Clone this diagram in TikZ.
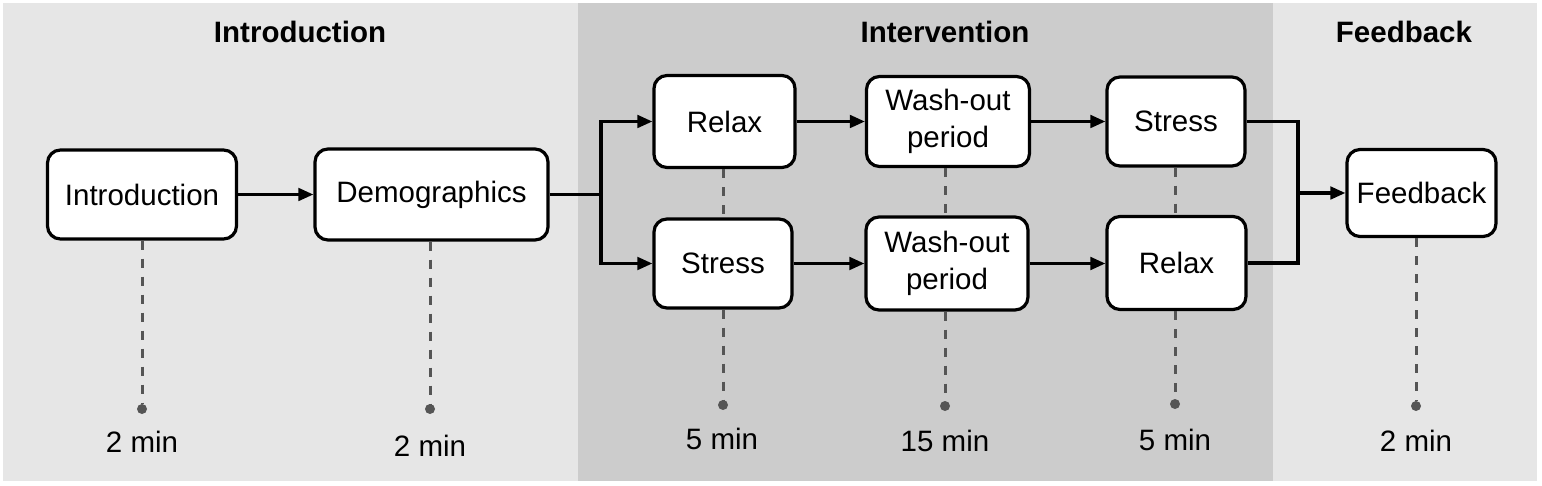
\documentclass[tikz,border=0pt]{standalone}
\usepackage{fontspec}
\setmainfont{Liberation Sans}
\usetikzlibrary{arrows.meta}
\definecolor{panelA}{HTML}{E6E6E6}
\definecolor{panelB}{HTML}{CCCCCC}
\definecolor{dashc}{HTML}{555555}
\tikzset{
 box/.style={draw=black, line width=3.2pt, fill=white, rounded corners=13pt, inner sep=0pt, align=center, font=\fontsize{29.5}{37}\selectfont},
 flow/.style={line width=3.2pt, draw=black},
 arr/.style={flow, -{Triangle[length=15pt,width=12.5pt]}},
 dashln/.style={draw=dashc, line width=3pt, dash pattern=on 9pt off 9pt},
 dotn/.style={circle, fill=dashc, inner sep=0pt, minimum size=10pt},
 ttl/.style={font=\bfseries\fontsize{29.5}{34}\selectfont, anchor=base, inner sep=0pt},
 lbl/.style={font=\fontsize{29.5}{34}\selectfont, anchor=base, inner sep=0pt},
}
\begin{document}
\begin{tikzpicture}[x=1pt,y=-1pt]
\useasboundingbox (0,0) rectangle (1542,486);
\fill[white] (0,0) rectangle (1542,486);
% panels
\fill[panelA] (3,3) rectangle (578,481);
\fill[panelB] (578,3) rectangle (1273,481);
\fill[panelA] (1273,3) rectangle (1537,481);
% titles
\node[ttl] (h1) at (300,43) {Introduction};
\node[ttl] (h2) at (945,43) {Intervention};
\node[ttl] (h3) at (1404,43) {Feedback};
% boxes
\node[box, minimum width=189pt, minimum height=89pt] (intro) at (142,194.5) {Introduction};
\node[box, minimum width=233pt, minimum height=91pt] (demo) at (431.5,194.5) {Demographics};
\node[box, minimum width=141pt, minimum height=92pt] (relaxA) at (724.5,121.5) {Relax};
\node[box, minimum width=138pt, minimum height=89pt] (stressA) at (723,263.5) {Stress};
\node[box, minimum width=163pt, minimum height=90pt] (washA) at (948,121.5) {Wash-out\\period};
\node[box, minimum width=162pt, minimum height=93pt] (washB) at (947,263.5) {Wash-out\\period};
\node[box, minimum width=138pt, minimum height=89pt] (stressB) at (1176,121.5) {Stress};
\node[box, minimum width=139pt, minimum height=93pt] (relaxB) at (1176.5,263) {Relax};
\node[box, minimum width=149pt, minimum height=87pt] (feed) at (1421.5,193) {Feedback};
% junctions
\coordinate (j1) at (601,194.5);
\coordinate (j2) at (1298,193);
% flow connectors
\draw[arr] (intro) -- (demo);
\draw[flow] (demo.east) -- (j1);
\draw[arr] (j1) |- (relaxA.west);
\draw[arr] (j1) |- (stressA.west);
\draw[arr] (relaxA) -- (washA);
\draw[arr] (stressA) -- (washB);
\draw[arr] (washA) -- (stressB);
\draw[arr] (washB.east) -- (washB.east -| relaxB.west);
\draw[flow] (stressB.east) -- (stressB.east -| j2) -- (relaxB.east -| j2) -- (relaxB.east);
\draw[arr] (j2) -- (feed.west);
% dots
\node[dotn] (d1) at (142,409) {};
\node[dotn] (d2) at (430,409) {};
\node[dotn] (d3) at (723,405) {};
\node[dotn] (d4) at (945,406) {};
\node[dotn] (d5) at (1175,404) {};
\node[dotn] (d6) at (1416,406) {};
% dashed timelines
\draw[dashln] (d1 |- intro.south) -- (d1);
\draw[dashln] (d2 |- demo.south) -- (d2);
\draw[dashln] (d3 |- relaxA.south) -- (d3 |- stressA.north);
\draw[dashln] (d3 |- stressA.south) -- (d3);
\draw[dashln] (d4 |- washA.south) -- (d4 |- washB.north);
\draw[dashln] (d4 |- washB.south) -- (d4);
\draw[dashln] (d5 |- stressB.south) -- (d5 |- relaxB.north);
\draw[dashln] (d5 |- relaxB.south) -- (d5);
\draw[dashln] (d6 |- feed.south) -- (d6);
% durations
\node[lbl] (t1) at (142,452) {2 min};
\node[lbl] (t2) at (430,456) {2 min};
\node[lbl] (t3) at (722,449) {5 min};
\node[lbl] (t4) at (945,451) {15 min};
\node[lbl] (t5) at (1175,450) {5 min};
\node[lbl] (t6) at (1416,451) {2 min};
\end{tikzpicture}
\end{document}
